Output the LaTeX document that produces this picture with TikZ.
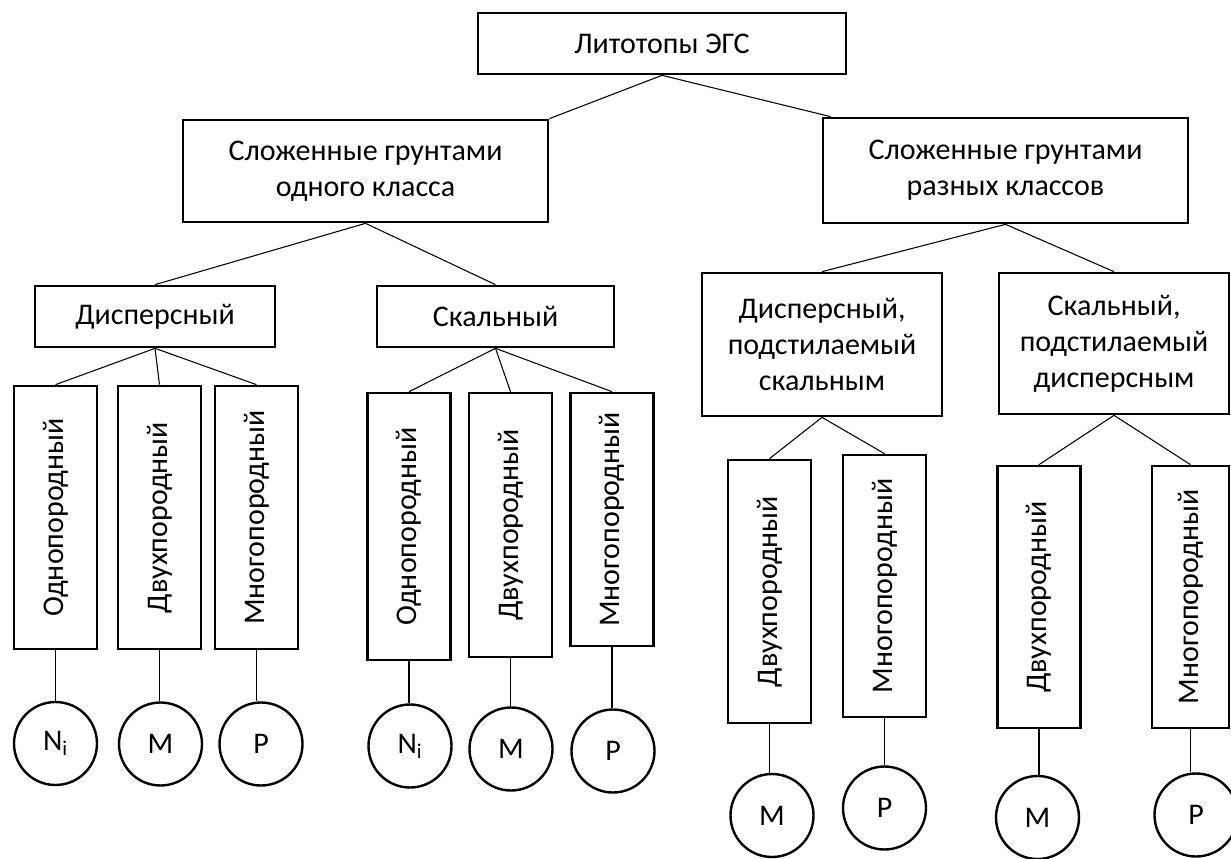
\documentclass[tikz,border=0pt]{standalone}
\usepackage{fontspec}
\setmainfont{Carlito}
\usetikzlibrary{calc}
\begin{document}
\begin{tikzpicture}[x=0.75pt,y=-0.75pt,
  box/.style={draw, line width=2pt, inner sep=0pt, align=center,
    font=\fontsize{22.5}{27}\selectfont},
  leaf/.style={box, minimum width=62.25pt},
  circ/.style={draw, circle, line width=1.8pt, inner sep=0pt,
    minimum size=62.25pt, font=\fontsize{22.5}{27}\selectfont},
  conn/.style={line width=0.8pt}]
\useasboundingbox (0,0) rectangle (1231,859);

% level 0 and 1
\node[box, minimum width=276pt, minimum height=45.75pt] (top) at (662,43.5) {Литотопы ЭГС};
\node[box, minimum width=273.75pt, minimum height=76.5pt] (L) at (365.5,171) {Сложенные грунтами\\одного класса};
\node[box, minimum width=273.75pt, minimum height=78.75pt] (R) at (1005.5,170.5) {Сложенные грунтами\\разных классов};

% level 2
\node[box, minimum width=180pt, minimum height=45.75pt] (D) at (155,316.5) {Дисперсный};
\node[box, minimum width=177.75pt, minimum height=45.75pt] (S) at (495.5,316.5) {Скальный};
\node[box, minimum width=180pt, minimum height=107.25pt] (DS) at (822,344.5) {Дисперсный,\\подстилаемый\\скальным};
\node[box, minimum width=172.5pt, minimum height=105.75pt] (SD) at (1114,343.5) {Скальный,\\подстилаемый\\дисперсным};

% level 3: group under D
\node[leaf, minimum height=197.25pt] (d1) at (55.5,517.5) {\rotatebox{90}{Однопородный}};
\node[leaf, minimum height=197.25pt] (d2) at (159.5,517.5) {\rotatebox{90}{Двухпородный}};
\node[leaf, minimum height=197.25pt] (d3) at (256.5,517.5) {\rotatebox{90}{Многопородный}};
% group under S
\node[leaf, minimum height=200.25pt] (s1) at (409,526.5) {\rotatebox{90}{Однопородный}};
\node[leaf, minimum height=198pt] (s2) at (510.5,525) {\rotatebox{90}{Двухпородный}};
\node[leaf, minimum height=189.75pt] (s3) at (612,519.5) {\rotatebox{90}{Многопородный}};
% group under DS
\node[leaf, minimum height=197.25pt] (ds1) at (769.5,591.5) {\rotatebox{90}{Двухпородный}};
\node[leaf, minimum height=196.5pt] (ds2) at (884.5,586) {\rotatebox{90}{Многопородный}};
% group under SD
\node[leaf, minimum height=196.5pt] (sd1) at (1039,597) {\rotatebox{90}{Двухпородный}};
\node[leaf, minimum width=57.75pt, minimum height=196.5pt] (sd2) at (1190.5,597) {\rotatebox{90}{Многопородный}};

% circles
\node[circ] (cd1) at (55.5,743.5) {N\textsubscript{i}};
\node[circ] (cd2) at (160.5,744) {М};
\node[circ] (cd3) at (261,744) {Р};
\node[circ] (cs1) at (410,746) {N\textsubscript{i}};
\node[circ] (cs2) at (511,749) {М};
\node[circ] (cs3) at (613,751) {Р};
\node[circ] (cds1) at (772,815.5) {М};
\node[circ] (cds2) at (884.5,808) {Р};
\node[circ] (csd1) at (1037.5,817.5) {М};
\node[circ] (csd2) at (1196,815) {Р};

% connectors
\draw[conn] (top.south) -- (L.north east);
\draw[conn] (top.south) -- ($(R.north west)+(9,0)$);
\draw[conn] (L.south) -- (D.north);
\draw[conn] (L.south) -- (S.north);
\draw[conn] (R.south) -- (DS.north);
\draw[conn] (R.south) -- (SD.north);
\foreach \c in {d1,d2,d3} \draw[conn] (D.south) -- (\c.north);
\foreach \c in {s1,s2,s3} \draw[conn] (S.south) -- (\c.north);
\foreach \c in {ds1,ds2} \draw[conn] (DS.south) -- (\c.north);
\foreach \c in {sd1,sd2} \draw[conn] (SD.south) -- (\c.north);
\foreach \b/\c in {d1/cd1,d2/cd2,d3/cd3,s1/cs1,s2/cs2,s3/cs3,ds1/cds1,ds2/cds2,sd1/csd1,sd2/csd2}
  \draw[conn] (\b.south) -- (\b.south |- \c.north);
\end{tikzpicture}
\end{document}
